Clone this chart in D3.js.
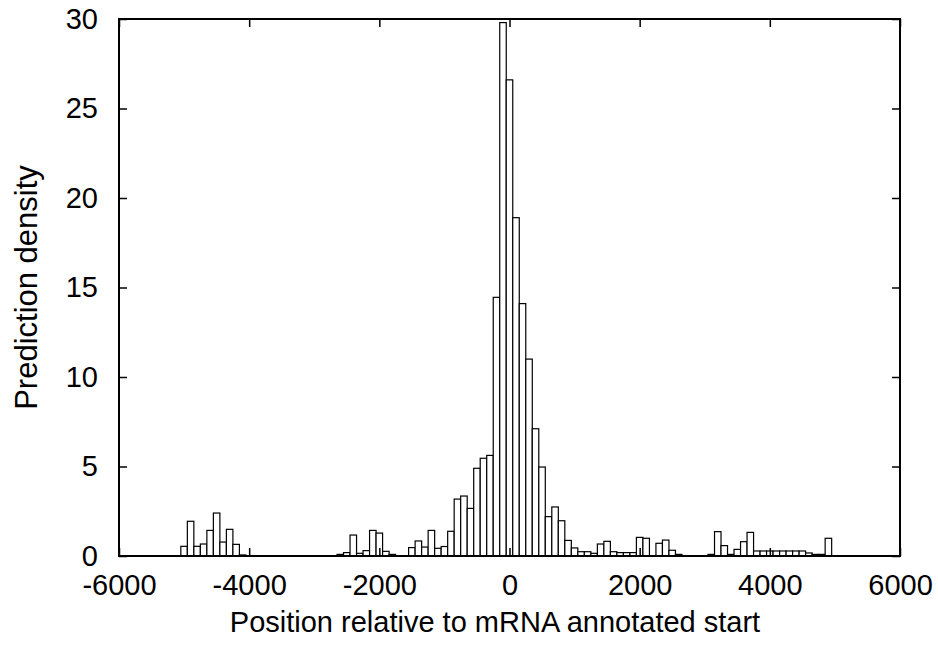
<!DOCTYPE html>
<html>
<head>
<meta charset="utf-8">
<script src="https://cdnjs.cloudflare.com/ajax/libs/d3/7.8.5/d3.min.js"></script>
<style>
    body { margin: 0; background: #fff; }
    svg { display: block; font-family: "Liberation Sans", Arial, Helvetica, sans-serif; }
    .axis text { font-size: 29px; fill: #000; }
    .axis line { stroke: #000; stroke-width: 1.5; }
    .axis .domain { display: none; }
</style>
</head>
<body>
<svg id="chart" width="938" height="651"></svg>
<script>
// bin centres (bin width 100) and prediction density
const binCenters = [
    -5000, -4900, -4800, -4700, -4600, -4500, -4400, -4300, -4200, -4100,
    -2600, -2500, -2400, -2300, -2200, -2100, -2000, -1900, -1800,
    -1500, -1400, -1300, -1200, -1100, -1000, -900, -800, -700, -600,
    -500, -400, -300, -200, -100, 0, 100, 200, 300, 400, 500,
    600, 700, 800, 900, 1000, 1100, 1200, 1300, 1400, 1500,
    1600, 1700, 1800, 1900, 2000, 2100, 2300, 2400, 2500, 2600,
    3100, 3200, 3300, 3400, 3500, 3600, 3700, 3800, 3900, 4000,
    4100, 4200, 4300, 4400, 4500, 4600, 4700, 4800, 4900
];
const density = [
    0.54, 1.94, 0.54, 0.67, 1.43, 2.40, 0.78, 1.49, 0.65, 0.06,
    0.09, 0.19, 1.17, 0.15, 0.30, 1.43, 1.28, 0.26, 0.09,
    0.47, 0.84, 0.50, 1.43, 0.43, 0.53, 1.38, 3.18, 3.35, 2.66,
    4.90, 5.46, 5.62, 14.45, 29.8, 26.6, 18.9, 14.1, 11.0, 7.11, 4.97,
    2.20, 2.74, 1.97, 0.87, 0.45, 0.24, 0.24, 0.15, 0.67, 0.82,
    0.24, 0.19, 0.19, 0.19, 1.04, 0.99, 0.71, 0.89, 0.32, 0.09,
    0.09, 1.36, 0.58, 0.09, 0.37, 0.80, 1.32, 0.28, 0.28, 0.28,
    0.28, 0.28, 0.28, 0.28, 0.28, 0.17, 0.09, 0.09, 0.99
];
const binWidth = 100;
const xTicks = [-6000, -4000, -2000, 0, 2000, 4000, 6000];
const yTicks = [0, 5, 10, 15, 20, 25, 30];
const xLabel = "Position relative to mRNA annotated start";
const yLabel = "Prediction density";

const margin = {top: 19, right: 38, bottom: 95, left: 119};
const svg = d3.select("#chart");
const width = +svg.attr("width") - margin.left - margin.right;
const height = +svg.attr("height") - margin.top - margin.bottom;

const x = d3.scaleLinear().domain([-6000, 6000]).range([0, width]);
const y = d3.scaleLinear().domain([0, 30]).range([height, 0]);
// plain hyphen minus, no thousands separator
const plain = d => String(d);

const g = svg.append("g")
    .attr("transform", "translate(" + margin.left + "," + margin.top + ")");

// boxes
g.append("g")
    .selectAll("rect")
    .data(binCenters.map((c, i) => ({c: c, v: density[i]})))
    .enter()
    .append("rect")
    .attr("x", d => x(d.c - binWidth / 2))
    .attr("width", d => x(d.c + binWidth / 2) - x(d.c - binWidth / 2))
    .attr("y", d => y(d.v))
    .attr("height", d => y(0) - y(d.v))
    .attr("fill", "#fff")
    .attr("stroke", "#000")
    .attr("stroke-width", 1.2);

// ticks point inwards, mirrored on top and right
g.append("g")
    .attr("class", "axis")
    .attr("transform", "translate(0," + height + ")")
    .call(d3.axisBottom(x).tickValues(xTicks).tickFormat(plain)
        .tickSizeInner(-8).tickSizeOuter(0).tickPadding(18));

g.append("g")
    .attr("class", "axis")
    .call(d3.axisTop(x).tickValues(xTicks).tickSizeInner(-8).tickSizeOuter(0).tickFormat(""));

g.append("g")
    .attr("class", "axis")
    .call(d3.axisLeft(y).tickValues(yTicks).tickFormat(plain)
        .tickSizeInner(-8).tickSizeOuter(0).tickPadding(21));

g.append("g")
    .attr("class", "axis")
    .attr("transform", "translate(" + width + ",0)")
    .call(d3.axisRight(y).tickValues(yTicks).tickSizeInner(-8).tickSizeOuter(0).tickFormat(""));

// frame
g.append("rect")
    .attr("width", width)
    .attr("height", height)
    .attr("fill", "none")
    .attr("stroke", "#000")
    .attr("stroke-width", 2);

svg.append("text")
    .attr("x", 495)
    .attr("y", 632)
    .attr("text-anchor", "middle")
    .attr("font-size", 29)
    .text(xLabel);

svg.append("text")
    .attr("transform", "translate(37," + (margin.top + height / 2) + ") rotate(-90)")
    .attr("text-anchor", "middle")
    .attr("font-size", 31)
    .text(yLabel);
</script>
</body>
</html>
